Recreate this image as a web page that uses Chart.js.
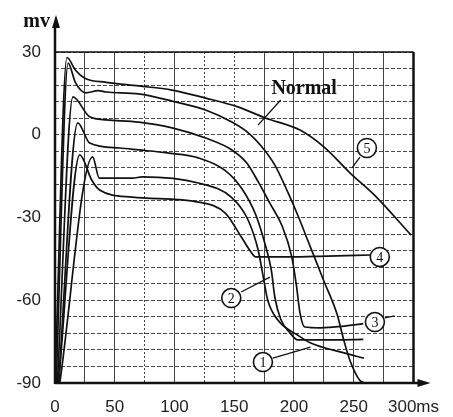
<!DOCTYPE html>
<html>
<head>
<meta charset="utf-8">
<script src="https://cdn.jsdelivr.net/npm/chart.js@4.4.0/dist/chart.umd.min.js"></script>
<style>
  html, body { margin: 0; padding: 0; background: #fff; }
</style>
</head>
<body>
<canvas id="apChart" width="453" height="417"></canvas>
<script>
// action potential traces: time (ms) and membrane potential (mV)
const normalMs = [1, 11, 17, 26, 36, 43, 70, 98, 126, 148, 162, 172, 184, 195, 203, 214, 225, 236, 242, 247, 255, 259];
const normalMv = [-90, 26, 19, 15.2, 16, 15.5, 14.8, 12.2, 9, 4.6, 0.6, -3.8, -11, -21, -29, -41, -53, -65, -75, -82, -89, -90];

const curve1Ms = [4, 31.5, 37, 65, 73, 120, 147.5, 161.6, 170, 174, 178, 186.5, 203, 214, 242, 258.5];
const curve1Mv = [-90, -8, -15.7, -15.7, -15.3, -17.5, -22.6, -30.9, -41.8, -50.9, -59.9, -67.2, -72.6, -75.5, -79.1, -81];

const curve2Ms = [3, 19, 29, 54, 70, 94, 120, 142, 156, 168, 176, 181, 184, 189, 197, 203, 230, 258];
const curve2Mv = [-90, 4.3, -3, -4.8, -5.5, -6.6, -8.4, -12.8, -19.3, -29, -40, -49, -59, -67, -72, -74.4, -74.4, -74.2];

const curve3Ms = [2, 15, 29, 43, 70, 98, 126, 148, 160, 170, 180, 190, 198, 202, 205, 209, 222, 240, 258];
const curve3Mv = [-90, 13.7, 6.5, 5.4, 4.6, 2.5, -1.2, -5.5, -10, -17, -25, -33, -44, -54.5, -64.6, -69.7, -70, -69.5, -68.5];

const curve4Ms = [3, 20.7, 30.7, 37.3, 64.6, 120.2, 142.5, 155.8, 164, 168, 195, 228, 264];
const curve4Mv = [-90, -7.3, -16.4, -20, -22.6, -24.4, -28.4, -37, -42.5, -44.3, -44.3, -44, -43.6];

const curve5Ms = [0, 10, 17, 25, 43, 70, 98, 126, 153, 176, 205, 225, 247, 269, 298];
const curve5Mv = [-90, 28, 23.5, 20.5, 19, 17.7, 16.2, 13.3, 10.1, 6.1, 1.7, -4.4, -13.9, -22.6, -36.4];

const curveNames = ['Normal', '1', '2', '3', '4', '5'];
const yTickLabels = [30, 0, -30, -60, -90];
const xTickLabels = [0, 50, 100, 150, 200, 250, 300];

function pairs(ms, mv) {
  return ms.map((t, i) => ({ x: t, y: mv[i] }));
}

const series = [
  pairs(normalMs, normalMv),
  pairs(curve1Ms, curve1Mv),
  pairs(curve2Ms, curve2Mv),
  pairs(curve3Ms, curve3Mv),
  pairs(curve4Ms, curve4Mv),
  pairs(curve5Ms, curve5Mv)
];

// callouts, in data units (ms, mV)
const circled = [
  { text: '1', x: 174, y: -82.4, from: [182.3, -81], to: [213.8, -77] },
  { text: '2', x: 147.5, y: -59.2, from: [155.8, -57], to: [179.8, -51.6] },
  { text: '3', x: 267.7, y: -67.9, from: [276, -66.4], to: [284.2, -65.7] },
  { text: '4', x: 271.8, y: -44.3 },
  { text: '5', x: 261, y: -4.8, from: [255.2, -8.1], to: [248.6, -12] }
];

const overlay = {
  id: 'overlay',
  afterDraw(chart) {
    const { ctx, chartArea: a, scales: { x, y } } = chart;
    const px = v => x.getPixelForValue(v);
    const py = v => y.getPixelForValue(v);
    ctx.save();
    ctx.strokeStyle = '#111';
    ctx.fillStyle = '#111';

    // frame + axes
    ctx.lineWidth = 1.5;
    ctx.beginPath(); ctx.moveTo(a.left, a.top); ctx.lineTo(a.right, a.top); ctx.stroke();
    ctx.lineWidth = 2.5;
    ctx.beginPath(); ctx.moveTo(a.right, a.top); ctx.lineTo(a.right, a.bottom); ctx.stroke();
    ctx.beginPath(); ctx.moveTo(a.left, a.bottom + 1); ctx.lineTo(a.left, 24); ctx.stroke();
    ctx.beginPath(); ctx.moveTo(a.left, a.bottom); ctx.lineTo(a.right + 8, a.bottom); ctx.stroke();
    ctx.beginPath(); ctx.moveTo(a.left + 1, 15); ctx.lineTo(a.left - 3, 28); ctx.lineTo(a.left + 5, 28); ctx.closePath(); ctx.fill();
    ctx.beginPath(); ctx.moveTo(a.right + 17, a.bottom); ctx.lineTo(a.right + 4, a.bottom - 4); ctx.lineTo(a.right + 4, a.bottom + 4); ctx.closePath(); ctx.fill();

    ctx.font = 'bold 20px "Liberation Serif"';
    ctx.textAlign = 'right';
    ctx.textBaseline = 'middle';
    ctx.fillText('mv', a.left - 5, 22);

    // "Normal" label
    ctx.font = 'bold 20px "Liberation Serif"';
    ctx.textAlign = 'center';
    ctx.fillText('Normal', px(208.5), py(16.8));
    ctx.lineWidth = 1.3;
    ctx.beginPath(); ctx.moveTo(px(188.9), py(12.6)); ctx.lineTo(px(169.9), py(3.5)); ctx.stroke();

    // numbered circles
    ctx.font = '14px "Liberation Serif"';
    circled.forEach(c => {
      if (c.from) {
        ctx.beginPath();
        ctx.moveTo(px(c.from[0]), py(c.from[1]));
        ctx.lineTo(px(c.to[0]), py(c.to[1]));
        ctx.stroke();
      }
      const cx = px(c.x), cy = py(c.y);
      ctx.beginPath();
      ctx.arc(cx, cy, 9.5, 0, Math.PI * 2);
      ctx.fillStyle = '#fff';
      ctx.fill();
      ctx.lineWidth = 1.6;
      ctx.stroke();
      ctx.fillStyle = '#111';
      ctx.fillText(c.text, cx, cy + 1);
      ctx.lineWidth = 1.3;
    });
    ctx.restore();
  }
};

const ctx = document.getElementById('apChart').getContext('2d');

new Chart(ctx, {
  type: 'line',
  data: {
    datasets: series.map((pts, i) => ({
      label: curveNames[i],
      data: pts,
      borderColor: '#111',
      borderWidth: 1.7,
      pointRadius: 0,
      fill: false,
      cubicInterpolationMode: 'monotone'
    }))
  },
  options: {
    responsive: false,
    animation: false,
    layout: { padding: { top: 52, right: 37, left: 0, bottom: 0 } },
    plugins: { legend: { display: false }, tooltip: { enabled: false } },
    scales: {
      x: {
        type: 'linear',
        min: 0,
        max: 300,
        afterFit: s => { s.height = 34; },
        border: {
          display: false,
          dash: c => ([75, 125, 150].includes(c.tick && c.tick.value) ? [2, 2] : [])
        },
        grid: { color: '#444', lineWidth: 1, drawTicks: false },
        ticks: {
          stepSize: 25,
          autoSkip: false,
          maxRotation: 0,
          padding: 14,
          color: '#222',
          font: { family: 'Liberation Sans', size: 17 },
          callback: v => (xTickLabels.includes(v) ? (v === 300 ? '300ms' : String(v)) : '')
        }
      },
      y: {
        min: -90,
        max: 30,
        afterFit: s => { s.width = 55; },
        border: { display: false, dash: [4, 2] },
        grid: { color: '#4a4a4a', lineWidth: 1, drawTicks: false },
        ticks: {
          stepSize: 6,
          autoSkip: false,
          maxTicksLimit: 40,
          padding: 14,
          color: '#222',
          font: { family: 'Liberation Sans', size: 17 },
          callback: v => (yTickLabels.includes(v) ? String(v) : '')
        }
      }
    }
  },
  plugins: [overlay]
});
</script>
</body>
</html>
